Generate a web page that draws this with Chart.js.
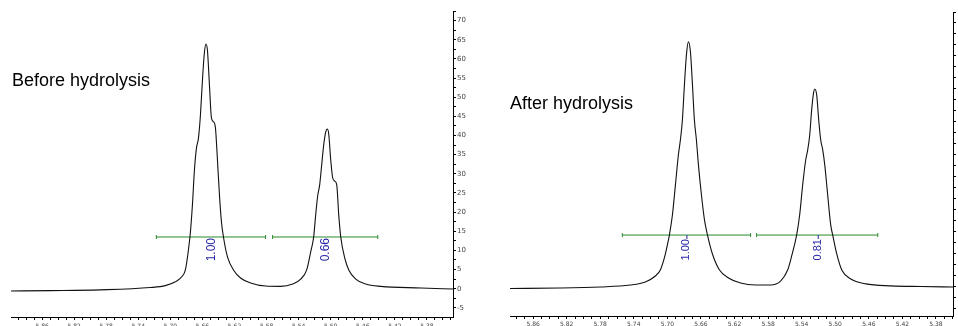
<!DOCTYPE html>
<html>
<head>
<meta charset="utf-8">
<script src="https://cdn.jsdelivr.net/npm/chart.js@4.4.0/dist/chart.umd.min.js"></script>
<style>
  body { margin:0; background:#fff; width:958px; height:326px; overflow:hidden; position:relative; }
  canvas { position:absolute; top:0; }
</style>
</head>
<body>
<canvas id="before" width="479" height="326" style="left:0"></canvas>
<canvas id="after" width="479" height="326" style="left:479px"></canvas>
<script>
// spectrum before hydrolysis (ppm / intensity)
const beforePpm = [5.899, 5.850, 5.7875, 5.725, 5.7063, 5.6938, 5.685, 5.6813, 5.6775, 5.675, 5.6725, 5.67, 5.6675, 5.665, 5.6625, 5.66, 5.6575, 5.6556, 5.6538, 5.6513, 5.6488, 5.6463, 5.6438, 5.6413, 5.6388, 5.6363, 5.6338, 5.6288, 5.6213, 5.6125, 5.6, 5.5813, 5.5625, 5.5475, 5.5375, 5.53, 5.525, 5.5213, 5.5188, 5.5163, 5.5138, 5.5113, 5.5088, 5.5063, 5.5044, 5.5025, 5.5, 5.4975, 5.495, 5.4925, 5.49, 5.4875, 5.4825, 5.4775, 5.4688, 5.4563, 5.4375, 5.3875, 5.3463]
const beforeIntensity = [-0.6, -0.5, -0.3, 0.3, 0.8, 1.8, 3.3, 4.9, 10.1, 14.8, 21.9, 31.0, 36.7, 39.3, 45.4, 54.5, 61.8, 63.9, 62.3, 53.2, 44.6, 43.6, 42.0, 33.6, 24.5, 17.4, 13.5, 8.3, 4.9, 2.8, 1.5, 0.7, 0.6, 1.2, 2.5, 4.9, 9.6, 13.5, 19.2, 24.2, 27.1, 32.3, 37.5, 40.9, 41.7, 40.4, 33.6, 28.9, 28.1, 27.1, 19.2, 13.5, 8.0, 4.9, 2.5, 1.2, 0.6, 0.2, -0.1]
const beforeIntFrom = [5.7175, 5.5725]
const beforeIntTo = [5.5813, 5.4413]
const beforeIntLevel = 13.5
const beforeIntLabels = ['1.00', '0.66']
const beforeIntLabelPpm = [5.6479, 5.5063]

// spectrum after hydrolysis
const afterPpm = [5.8875, 5.8278, 5.78, 5.7442, 5.7263, 5.7143, 5.7084, 5.7036, 5.7, 5.6976, 5.694, 5.6904, 5.6869, 5.6845, 5.6821, 5.6797, 5.6773, 5.6749, 5.6725, 5.6701, 5.6678, 5.6654, 5.663, 5.6594, 5.6558, 5.6522, 5.6463, 5.6379, 5.6272, 5.6128, 5.595, 5.577, 5.5651, 5.5567, 5.5519, 5.546, 5.5424, 5.5388, 5.5352, 5.5328, 5.5304, 5.5281, 5.5257, 5.5245, 5.5221, 5.5197, 5.5173, 5.5149, 5.5125, 5.509, 5.5054, 5.503, 5.4982, 5.4922, 5.4815, 5.4636, 5.4337, 5.3979, 5.3597]
const afterIntensity = [-0.7, -0.5, 0, 0.9, 2.3, 5.0, 7.7, 13.2, 19.1, 23.6, 32.7, 46.4, 60.0, 66.8, 75.9, 91.8, 105.5, 111.4, 106.8, 91.8, 75.9, 66.8, 55.5, 41.8, 30.5, 23.6, 15.0, 7.7, 4.1, 1.8, 0.9, 0.9, 2.7, 7.7, 14.1, 23.6, 32.7, 46.4, 57.7, 62.3, 69.1, 80.5, 88.6, 90.0, 87.3, 75.9, 66.8, 62.3, 55.5, 41.8, 28.2, 23.6, 15.0, 7.7, 3.6, 1.4, 0.5, 0.2, 0]
const afterIntFrom = [5.7537, 5.5937]
const afterIntTo = [5.6009, 5.4493]
const afterIntLevel = 23.6
const afterIntLabels = ['1.00', '0.81']
const afterIntLabelPpm = [5.6773, 5.5209]

const green = '#2a8a2a'
const blue = '#2626a6'

function xLabel(v) {
  const k = Math.round(v * 100)
  if (Math.abs(v * 100 - k) > 1e-6) return ''
  return (k - 538) % 4 === 0 ? (k / 100).toFixed(2) : ''
}

// title + integral numbers
const annot = {
  id: 'annot',
  afterDatasetsDraw(chart, args, o) {
    const ctx = chart.ctx
    const xs = chart.scales.x, ys = chart.scales.y
    ctx.save()
    ctx.fillStyle = '#000'
    ctx.font = '18px "Liberation Sans", Arial, sans-serif'
    ctx.textBaseline = 'alphabetic'
    ctx.fillText(o.title, o.titleX, o.titleY)
    const ly = ys.getPixelForValue(o.level)
    o.labels.forEach((t, i) => {
      const px = xs.getPixelForValue(o.labelPpm[i])
      let top = ly + 1
      if (o.labelTick) {
        ctx.strokeStyle = blue
        ctx.lineWidth = 1
        ctx.beginPath()
        ctx.moveTo(px + 0.5, ly)
        ctx.lineTo(px + 0.5, ly + 4)
        ctx.stroke()
        top = ly + 4
      }
      ctx.save()
      ctx.translate(px, top)
      ctx.rotate(-Math.PI / 2)
      ctx.fillStyle = blue
      ctx.font = o.labelSize + 'px "Liberation Sans", Arial, sans-serif'
      ctx.textAlign = 'right'
      ctx.textBaseline = 'middle'
      ctx.fillText(t, 0, 0)
      ctx.restore()
    })
    ctx.restore()
  }
}

function makeChart(id, c) {
  const datasets = [{
    data: c.ppm.map((p, i) => ({ x: p, y: c.intensity[i] })),
    borderColor: '#111',
    borderWidth: 1.1,
    pointRadius: 0,
    cubicInterpolationMode: 'monotone'
  }]
  c.from.forEach((f, i) => {
    datasets.push({
      data: [{ x: f, y: c.level }, { x: c.to[i], y: c.level }],
      borderColor: green,
      borderWidth: 1,
      pointStyle: 'line',
      rotation: 90,
      pointRadius: 2,
      pointBorderColor: green,
      pointBorderWidth: 1
    })
  })

  new Chart(document.getElementById(id), {
    type: 'line',
    data: { datasets },
    plugins: [annot],
    options: {
      responsive: false,
      animation: false,
      layout: { padding: { left: c.padLeft, top: c.padTop, right: 0, bottom: 0 } },
      plugins: {
        legend: { display: false },
        tooltip: { enabled: false },
        annot: {
          title: c.title, titleX: c.titleX, titleY: c.titleY,
          level: c.level, labels: c.labels, labelPpm: c.labelPpm,
          labelTick: c.labelTick, labelSize: c.labelSize
        }
      },
      scales: {
        x: {
          type: 'linear',
          reverse: true,
          min: c.xMin,
          max: c.xMax,
          afterFit: s => { s.height = c.xAxisH },
          ticks: {
            stepSize: 0.01, maxTicksLimit: 1000, autoSkip: false, maxRotation: 0,
            includeBounds: false,
            padding: c.xPad, color: '#444',
            font: { size: 6, family: 'DejaVu Sans' },
            callback: xLabel
          },
          grid: { drawOnChartArea: false, drawTicks: true, tickLength: 3, tickColor: '#000' },
          border: { color: '#000', width: 1 }
        },
        y: {
          position: 'right',
          min: c.yMin,
          max: c.yMax,
          afterFit: s => { s.width = c.yAxisW },
          ticks: {
            stepSize: c.yStep, maxTicksLimit: 1000, autoSkip: false,
            includeBounds: false,
            padding: 1, color: '#444',
            font: { size: 7, family: 'DejaVu Sans' },
            callback: c.yLabel
          },
          grid: { drawOnChartArea: false, drawTicks: true, tickLength: 3, tickColor: '#000' },
          border: { color: '#000', width: 1 }
        }
      }
    }
  })
}

makeChart('before', {
  ppm: beforePpm, intensity: beforeIntensity,
  from: beforeIntFrom, to: beforeIntTo, level: beforeIntLevel,
  labels: beforeIntLabels, labelPpm: beforeIntLabelPpm, labelTick: false, labelSize: 12,
  title: 'Before hydrolysis', titleX: 12, titleY: 86,
  xMin: 5.3475, xMax: 5.8988, yMin: -7.39, yMax: 72.5, yStep: 2.5,
  yLabel: v => Math.abs(v % 5) < 1e-6 ? String(v) : '',
  padLeft: 11, padTop: 11, xAxisH: 9, yAxisW: 26, xPad: 3
})

makeChart('after', {
  ppm: afterPpm, intensity: afterIntensity,
  from: afterIntFrom, to: afterIntTo, level: afterIntLevel,
  labels: afterIntLabels, labelPpm: afterIntLabelPpm, labelTick: true, labelSize: 11,
  title: 'After hydrolysis', titleX: 31, titleY: 109,
  xMin: 5.3597, xMax: 5.8875, yMin: -13.2, yMax: 125, yStep: 5,
  yLabel: () => '',
  padLeft: 31, padTop: 12, xAxisH: 10, yAxisW: 5, xPad: 2
})
</script>
</body>
</html>
